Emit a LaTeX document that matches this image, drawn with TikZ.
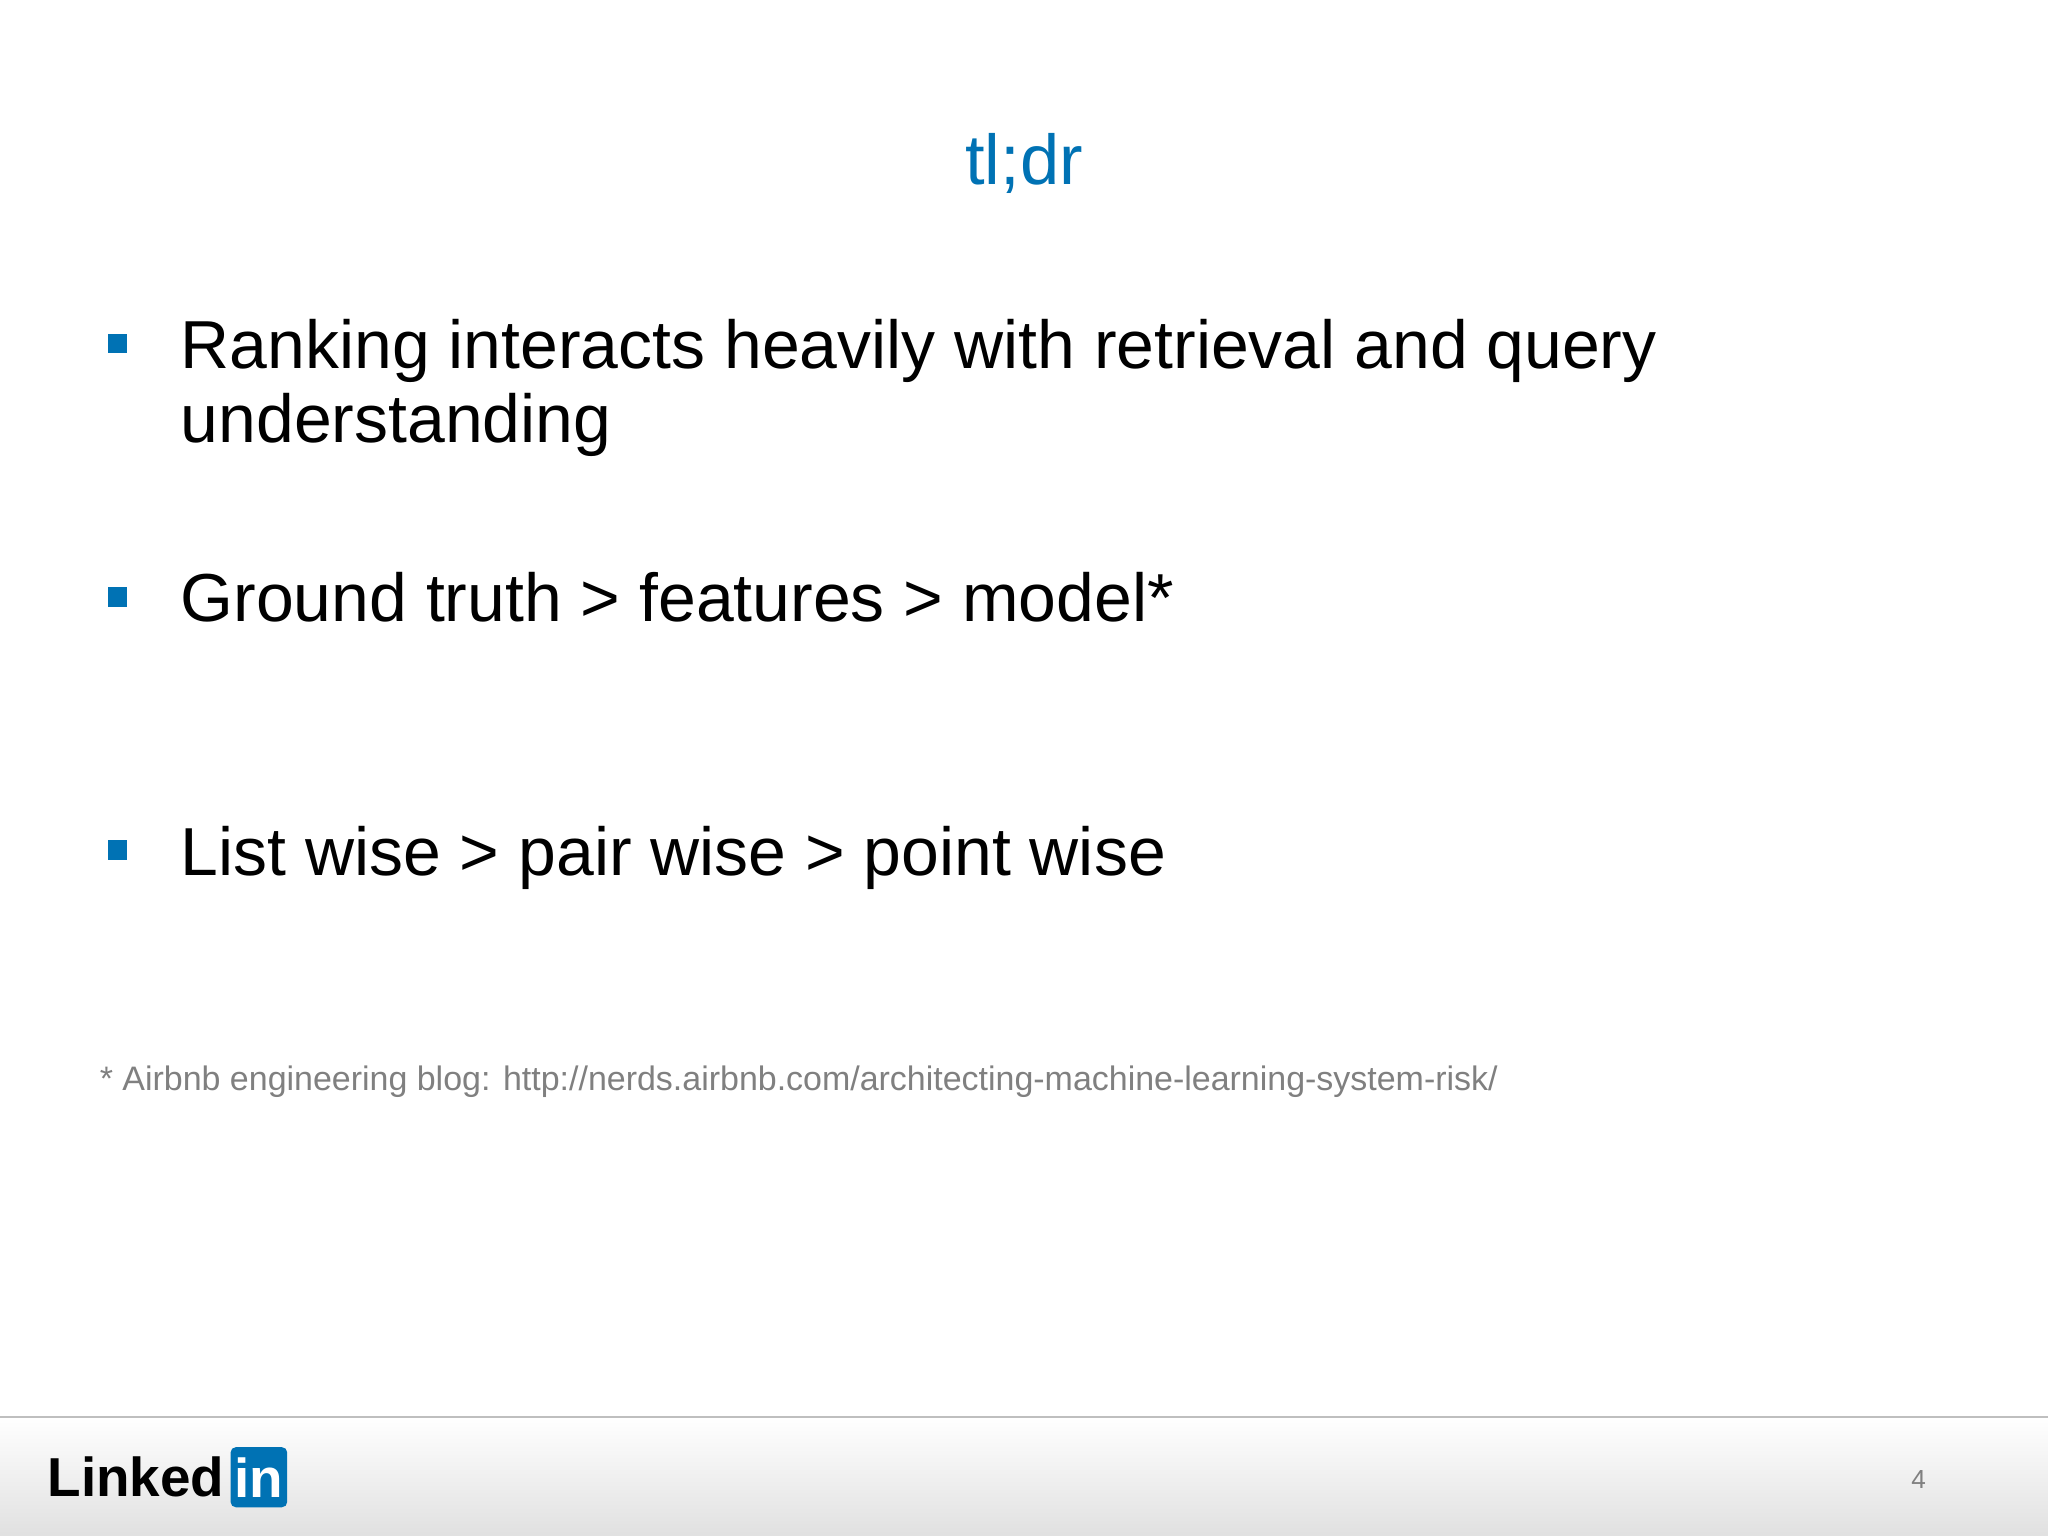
\documentclass[tikz,border=0pt]{standalone}
\usepackage{fontspec}
\setmainfont{Liberation Sans}
\definecolor{lblue}{RGB}{0,114,180}
\definecolor{fgray}{RGB}{128,128,128}
\tikzset{bul/.style={fill=lblue,minimum size=7.5pt,inner sep=0pt},
 body/.style={anchor=base west,font=\fontsize{26}{31}\selectfont,inner sep=0pt}}
\begin{document}
\begin{tikzpicture}[x=0.5pt,y=-0.5pt]
\useasboundingbox (0,0) rectangle (1568,1176);
\fill[white] (0,0) rectangle (1568,1176);
\shade[top color=white,bottom color=black!12] (0,1085) rectangle (1568,1176);
\draw[black!25,line width=1pt] (0,1085) -- (1568,1085);
\node[anchor=base,text=lblue,font=\fontsize{27}{32}\selectfont,inner sep=0pt] (title) at (784,141) {tl;dr};
\node[bul] (b1) at (90,263) {};
\node[body] (t1) at (138,282) {Ranking interacts heavily with retrieval and query};
\node[body] (t1b) at (138,339) {understanding};
\node[bul] (b2) at (90,457) {};
\node[body] (t2) at (138,476) {Ground truth > features > model*};
\node[bul] (b3) at (90,651) {};
\node[body] (t3) at (138,670) {List wise > pair wise > point wise};
\node[anchor=base west,text=fgray,font=\fontsize{13}{15}\selectfont,inner sep=0pt] (fn) at (76,835) {* Airbnb engineering blog: http://nerds.airbnb.com/architecting-machine-learning-system-risk/};
\node[anchor=base west,inner sep=0pt,font=\fontsize{21}{24}\selectfont\bfseries] (li) at (36,1146) {Linked};
\node[anchor=west,fill=lblue,rounded corners=2pt,text=white,inner sep=1.5pt,font=\fontsize{21}{24}\selectfont\bfseries,minimum height=23pt] (in) at ([xshift=2pt]li.east) {in};
\node[anchor=base,text=fgray,font=\fontsize{10}{12}\selectfont,inner sep=0pt] (pg) at (1469,1140) {4};
\end{tikzpicture}
\end{document}
